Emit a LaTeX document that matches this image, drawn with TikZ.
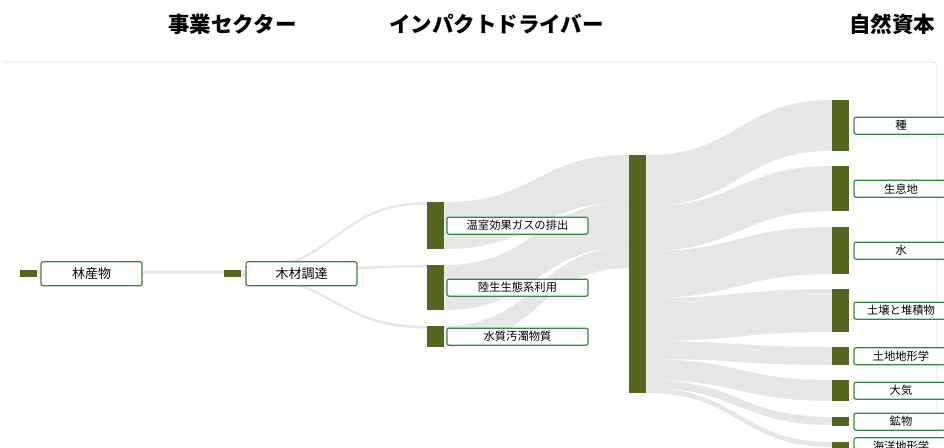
\documentclass[tikz,border=0pt]{standalone}
\usepackage{fontspec}
\usepackage{tikz}
\usetikzlibrary{calc,positioning,backgrounds}
\newfontfamily\jpfont{Noto Sans CJK JP}
\definecolor{barolive}{RGB}{84,101,30}
\definecolor{boxgreen}{RGB}{52,137,64}
\definecolor{flowgray}{RGB}{200,200,200}
\definecolor{framegray}{RGB}{222,222,222}

\tikzset{
  bar/.style={rectangle,fill=barolive,draw=none,inner sep=0pt,minimum width=17pt,anchor=north west},
  tag/.style={rectangle,draw=boxgreen,line width=1.2pt,fill=white,rounded corners=2pt,inner sep=0pt,
    minimum height=17pt,anchor=west,font=\jpfont\fontsize{11.3}{12}\selectfont},
  bigtag/.style={tag,minimum height=24pt,font=\jpfont\fontsize{13}{15}\selectfont},
  heading/.style={font=\jpfont\bfseries\fontsize{21.5}{24}\selectfont},
  flowfill/.style={fill=flowgray,fill opacity=0.45}
}

% band from one bar to the next: source, offset, target, offset, width
\newcommand\band[5]{%
  \fill[flowfill] let \p1=($(#1.north east)+(0,#2)$), \p2=($(#3.north west)+(0,#4)$),
    \p3=($(\p1)+(0,#5)$), \p4=($(\p2)+(0,#5)$), \p5=($(\p1)!.5!(\p2)$) in
    (\p1) .. controls (\x5,\y1) and (\x5,\y2) .. (\p2) -- (\p4)
    .. controls (\x5,\y4) and (\x5,\y3) .. (\p3) -- cycle;}

\begin{document}
\begin{tikzpicture}[x=1pt,y=-1pt]
        \useasboundingbox (0,0) rectangle (944,447);

        % Column headings
        \node[heading] (sectorhead) at (232.5,24) {事業セクター};
        \node[heading] (driverhead) at (496.5,24) {インパクトドライバー};
        \node[heading] (capitalhead) at (892,24) {自然資本};

        % Bars
        \node[bar,minimum height=7pt] (prodbar) at (20,270) {};
        \node[bar,minimum height=7pt] (procbar) at (224,270) {};
        \node[bar,minimum height=47pt] (ghgbar) at (427,202) {};
        \node[bar,minimum height=45pt] (landbar) at (427,265) {};
        \node[bar,minimum height=21pt] (waterpbar) at (427,326) {};
        \node[bar,minimum height=238pt] (hubbar) at (629,155) {};
        \node[bar,minimum height=51pt] (speciesbar) at (832,100) {};
        \node[bar,minimum height=45pt] (habitatbar) at (832,166) {};
        \node[bar,minimum height=47pt] (waterbar) at (832,227) {};
        \node[bar,minimum height=43pt] (soilbar) at (832,289) {};
        \node[bar,minimum height=18pt] (geombar) at (832,347) {};
        \node[bar,minimum height=21pt] (airbar) at (832,380) {};
        \node[bar,minimum height=9pt] (mineralbar) at (832,417) {};
        \node[bar,minimum height=8pt] (oceanbar) at (832,442) {};

        % Flows
        \begin{scope}[on background layer]
          \draw[framegray,line width=0.8pt,rounded corners=4pt] (4,62) -- (937,62) -- (937,450);
          \band{prodbar}{0.5}{procbar}{0.5}{3}
          \band{procbar}{0}{ghgbar}{0}{2.5}
          \band{procbar}{2.5}{landbar}{0}{2.5}
          \band{procbar}{5}{waterpbar}{0}{2.5}
          \band{ghgbar}{0}{hubbar}{0}{47}
          \band{landbar}{0}{hubbar}{47}{45}
          \band{waterpbar}{0}{hubbar}{92}{21}
          \band{hubbar}{0}{speciesbar}{0}{51}
          \band{hubbar}{51}{habitatbar}{0}{45}
          \band{hubbar}{96}{waterbar}{0}{47}
          \band{hubbar}{143}{soilbar}{0}{43}
          \band{hubbar}{186}{geombar}{0}{18}
          \band{hubbar}{204}{airbar}{0}{21}
          \band{hubbar}{225}{mineralbar}{0}{8}
          \band{hubbar}{233}{oceanbar}{0}{5}
        \end{scope}

        % Labels
        \node[bigtag,minimum width=101pt,right=3pt of prodbar] (prod) {林産物};
        \node[bigtag,minimum width=111pt,right=4pt of procbar] (proc) {木材調達};
        \node[tag,minimum width=141pt,right=2pt of ghgbar] (ghg) {温室効果ガスの排出};
        \node[tag,minimum width=141pt,right=2pt of landbar] (land) {陸生生態系利用};
        \node[tag,minimum width=141pt,right=2pt of waterpbar] (waterp) {水質汚濁物質};
        \node[tag,minimum width=94pt,right=4pt of speciesbar] (species) {種};
        \node[tag,minimum width=94pt,right=4pt of habitatbar] (habitat) {生息地};
        \node[tag,minimum width=94pt,right=4pt of waterbar] (water) {水};
        \node[tag,minimum width=94pt,right=4pt of soilbar] (soil) {土壌と堆積物};
        \node[tag,minimum width=94pt,right=4pt of geombar] (geom) {土地地形学};
        \node[tag,minimum width=94pt,right=4pt of airbar] (air) {大気};
        \node[tag,minimum width=94pt,right=4pt of mineralbar] (mineral) {鉱物};
        \node[tag,minimum width=94pt,right=4pt of oceanbar] (ocean) {海洋地形学};
    \end{tikzpicture}
\end{document}
